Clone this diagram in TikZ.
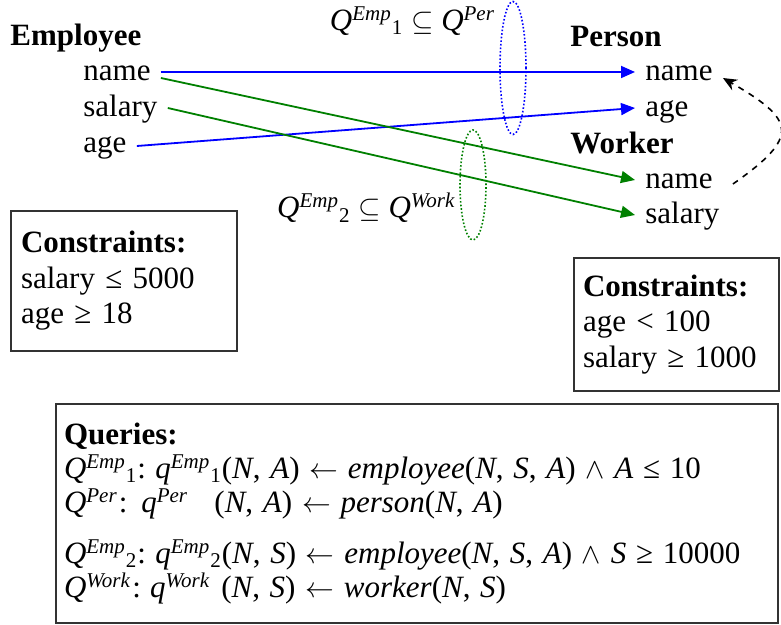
\documentclass[tikz,border=0pt]{standalone}
\usepackage{fontspec}
\setmainfont{Liberation Serif}
\usepackage{xcolor}
\usetikzlibrary{
  arrows.meta,
  positioning,
  shapes.geometric
}

\definecolor{mapblue}{RGB}{0,0,255}
\definecolor{mapgreen}{RGB}{0,128,0}
\newcommand{\Qsym}[3]{\textit{#1}\textsuperscript{\fontsize{10.5}{10}\selectfont\textit{#2}}\textsubscript{\fontsize{10.5}{10}\selectfont #3}}

\begin{document}
\begin{tikzpicture}[
  x=0.5pt, y=-0.5pt,
  font=\fontsize{15.5}{17.75}\selectfont,
  entity/.style={font=\fontsize{15.5}{17.75}\selectfont\bfseries, anchor=west, inner sep=0pt},
  attr/.style={anchor=west, inner xsep=5pt, inner ysep=0pt, text height=0.7em, text depth=0.25em},
  mapping/.style={-{Triangle[length=7pt,width=6pt]}, line width=0.9pt},
  inclusion/.style={ellipse, draw, densely dotted, line width=0.8pt, inner sep=0pt},
  consbox/.style={draw=black!80, line width=1pt, align=left, anchor=north west, inner xsep=5pt}
]
  \useasboundingbox (0,0) rectangle (781,625);

  % source schema
  \node[entity] (emp) at (10,38) {Employee};
  \node[attr] (empName)   at (73,76)  {name};
  \node[attr] (empSalary) at (73,112) {salary};
  \node[attr] (empAge)    at (73,148) {age};

  % target schemas
  \node[entity] (per) at (570,37)  {Person};
  \node[attr] (perName)   at (635,76)  {name};
  \node[attr] (perAge)    at (635,112) {age};
  \node[entity] (wrk) at (570,143) {Worker};
  \node[attr] (wrkName)   at (635,184) {name};
  \node[attr] (wrkSalary) at (635,219) {salary};

  % correspondences
  \draw[mapping, draw=mapblue, fill=mapblue] ([yshift=2pt]empName.east) -- ([yshift=2pt]perName.west);
  \draw[mapping, draw=mapblue, fill=mapblue] ([yshift=1pt]empAge.east) -- ([yshift=2pt]perAge.west);
  \draw[mapping, draw=mapgreen, fill=mapgreen] ([yshift=-1pt]empName.east) -- ([yshift=2pt]wrkName.west);
  \draw[mapping, draw=mapgreen, fill=mapgreen] ([yshift=2pt]empSalary.east) -- ([yshift=2pt]wrkSalary.west);

  % inclusions
  \node[inclusion, draw=mapblue, minimum width=13pt, minimum height=66.5pt] (incPer) at (513,68) {};
  \node[inclusion, draw=mapgreen, minimum width=13pt, minimum height=55pt] (incWrk) at (473,185) {};
  \node (incPerLbl) at (413,21) {\Qsym{Q}{Emp}{1} $\subseteq$ \Qsym{Q}{Per}{}};
  \node (incWrkLbl) at (367,208) {\Qsym{Q}{Emp}{2} $\subseteq$ \Qsym{Q}{Work}{}};

  \draw[dashed, line width=0.8pt, -{Stealth[length=7pt,width=6pt]}]
    ([xshift=5pt]wrkName.east) to[out=35, in=-30, looseness=2] ([yshift=-1pt]perName.east);

  % constraints
  \node[consbox, text width=103pt, minimum height=70pt] (empCons) at (10,210)
    {\textbf{Constraints:}\\ salary ≤ 5000\\ age ≥ 18};
  \node[consbox, text width=93.5pt, inner xsep=4.5pt, minimum height=66.5pt] (wrkCons) at (573,257)
    {\textbf{Constraints:}\\ age < 100\\ salary ≥ 1000};

  % queries
  \node[consbox, text width=353pt, inner xsep=4pt, minimum height=109.5pt,
        font=\fontsize{14.6}{17}\selectfont] (queries) at (55,403)
    {\fontsize{15.5}{17}\selectfont\textbf{Queries:}\\
     \Qsym{Q}{Emp}{1}:\hspace{0.3em}\Qsym{q}{Emp}{1}(\textit{N}, \textit{A}) $\leftarrow$ \textit{employee}(\textit{N}, \textit{S}, \textit{A}) $\wedge$ \textit{A} ≤ 10\\
     \Qsym{Q}{Per}{}:\hspace{0.45em}\Qsym{q}{Per}{}\hspace{0.5em} (\textit{N}, \textit{A}) $\leftarrow$ \textit{person}(\textit{N}, \textit{A})\\[8.5pt]
     \Qsym{Q}{Emp}{2}:\hspace{0.3em}\Qsym{q}{Emp}{2}(\textit{N}, \textit{S}) $\leftarrow$ \textit{employee}(\textit{N}, \textit{S}, \textit{A}) $\wedge$ \textit{S} ≥ 10000\\
     \Qsym{Q}{Work}{}:\hspace{0.3em}\Qsym{q}{Work}{} (\textit{N}, \textit{S}) $\leftarrow$ \textit{worker}(\textit{N}, \textit{S})};
\end{tikzpicture}
\end{document}
